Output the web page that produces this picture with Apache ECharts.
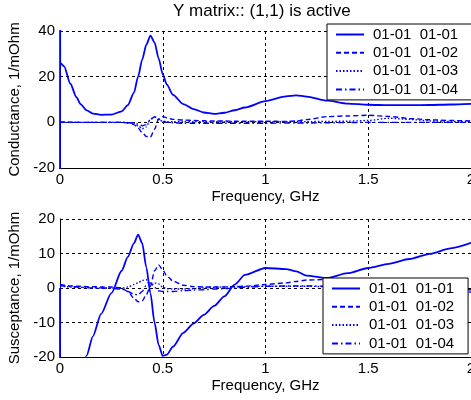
<!DOCTYPE html>
<html>
<head>
<meta charset="utf-8">
<script src="https://cdn.jsdelivr.net/npm/echarts@6/dist/echarts.min.js"></script>
<style>
  html, body { margin: 0; padding: 0; background: #fff; }
  #chart { width: 471px; height: 400px; }
</style>
</head>
<body>
<div id="chart"></div>
<script>
// frequency, GHz (first points hold the DC spike)
let freq = [0, 0.0005, 0.001, 0.02, 0.05, 0.08, 0.1, 0.13, 0.16, 0.2, 0.25, 0.3, 0.33, 0.36, 0.38, 0.4,
  0.42, 0.44, 0.46, 0.48, 0.5, 0.52, 0.55, 0.6, 0.65, 0.7, 0.75, 0.8, 0.85, 0.9, 1.0, 1.1, 1.15, 1.2,
  1.3, 1.4, 1.5, 1.6, 1.7, 1.8, 1.9, 2.0];

// conductance, 1/mOhm
let g11 = [-40, 60, 26, 24.5, 17, 11, 8, 5.2, 3.8, 3.3, 3.4, 4.8, 7.5, 13, 20, 27.5,
  34, 38, 35, 28, 21, 16.5, 12, 8, 5.8, 4.3, 3.7, 4.2, 5.3, 6.5, 9.3, 11.4, 11.8, 11.3,
  9.5, 8.2, 7.7, 7.5, 7.5, 7.6, 7.8, 8.1];
let g12 = [0.3, 0.3, 0.3, 0.2, 0.1, 0, 0, 0, 0, 0, 0, 0, -0.3, -1, -2.5, -4.5,
  -6.2, -6.5, -3, 1.5, 2.5, 2, 1.3, 1, 0.8, 0.7, 0.6, 0.6, 0.5, 0.5, 0.5, 0.4, 0.6, 1.2,
  2.5, 2.8, 3.1, 2.6, 1.7, 1.1, 0.8, 0.6];
let g13 = [0, 0, 0, 0, 0, 0, 0, 0, 0, 0, 0, 0, -0.2, -0.5, -1.5, -2.8,
  -2, 1.5, 2.2, 1.2, 0.5, 0.3, 0.3, 0.3, 0.3, 0.3, 0.3, 0.3, 0.3, 0.3, 0.3, 0.3, 0.3, 0.3,
  0.4, 0.5, 0.8, 1.8, 1.3, 0.6, 0.4, 0.3];
let g14 = [0, 0, 0, 0, 0, 0, 0, 0, 0, 0, 0, 0, -0.1, -0.3, -0.8, -1.5,
  -1, 1, 2.5, 1.5, 0.3, 0, -0.2, -0.4, -0.4, -0.4, -0.4, -0.4, -0.4, -0.4, -0.4, -0.3, -0.3, -0.3,
  -0.2, -0.1, 0, 0, 0, 0, 0, 0];

// susceptance, 1/mOhm
let b11 = [0, -200, -200, -150, -55, -35, -27, -19.5, -14, -7.5, -1.5, 5, 9, 13, 15.5, 13,
  6, -1.5, -10, -16.5, -19.7, -19.3, -17, -13, -10.3, -7.8, -5.2, -2.4, 1, 3.8, 5.8, 5.5, 4.8, 3.6,
  2.9, 4.3, 5.8, 7, 8.4, 9.9, 11.5, 13.1];
let b12 = [1, 1, 1, 0.8, 0.6, 0.5, 0.5, 0.4, 0.4, 0.3, 0.3, 0, -1, -3, -4, -3.7,
  -2, 0.5, 5, 6.7, 5.2, 3.5, 2, 0.8, 0.4, 0.3, 0.3, 0.3, 0.4, 0.5, 1, 1.5, 1.9, 2.3,
  2.5, 1.5, 0.5, -0.2, -0.6, -0.8, -1, -1.2];
let b13 = [0.5, 0.5, 0.5, 0.4, 0.3, 0.2, 0.2, 0.1, 0.1, 0, 0, 0, 0.3, 1, 1.5, 2.2,
  2.4, 0.5, 1.5, 1.2, 0.2, -0.2, -0.3, -0.3, -0.2, 0, 0.2, 0.3, 0.3, 0.4, 0.5, 0.5, 0.5, 0.5,
  0.4, 0.2, 0, -0.2, -0.3, -0.3, -0.4, -0.4];
let b14 = [0.8, 0.8, 0.8, 0.6, 0.4, 0.3, 0.2, 0.1, 0, 0, -0.1, -0.3, -1, -1.8, -2, -1,
  0.8, 1.5, 0.2, -0.8, -1, -1, -1, -0.8, -0.6, -0.5, -0.3, -0.2, 0, 0.2, 0.5, 0.6, 0.6, 0.6,
  0.5, 0.3, 0, -0.2, -0.3, -0.4, -0.5, -0.5];

let names = ["01-01  01-01", "01-01  01-02", "01-01  01-03", "01-01  01-04"];
let dashTypes = ["solid", [5, 3], [1.5, 2], [6, 3, 1.5, 3]];

let font = "'Liberation Sans', Arial, sans-serif";

function pairs(ys) {
  return freq.map(function (f, i) {
    return [f, ys[i]];
  });
}

function makeSeries(ys, k, idx) {
  return {
    name: names[k],
    type: "line",
    xAxisIndex: idx,
    yAxisIndex: idx,
    data: pairs(ys),
    symbol: "none",
    smooth: 0.25,
    smoothMonotone: "x",
    clip: true,
    color: "#0000ff",
    lineStyle: { color: "#0000ff", width: k === 0 ? 1.8 : 1.4, type: dashTypes[k] },
    z: 5 - k,
  };
}

function xAxis(idx) {
  return {
    type: "value",
    gridIndex: idx,
    min: 0,
    max: 2,
    interval: 0.5,
    name: "Frequency, GHz",
    nameLocation: "middle",
    nameGap: 21,
    nameTextStyle: { color: "#000", fontSize: 15, fontFamily: font },
    axisLine: { show: true, onZero: false, lineStyle: { color: "#000", width: 1 } },
    axisTick: { show: false },
    axisLabel: { color: "#000", fontSize: 15, fontFamily: font, margin: 4 },
    splitLine: { show: true, lineStyle: { color: "#000", width: 1, type: [3, 3] } },
  };
}

function yAxis(idx, name, min, max, step) {
  return {
    type: "value",
    gridIndex: idx,
    min: min,
    max: max,
    interval: step,
    name: name,
    nameLocation: "middle",
    nameGap: 30,
    nameTextStyle: { color: "#000", fontSize: 15, fontFamily: font },
    axisLine: { show: true, onZero: false, lineStyle: { color: "#000", width: 1 } },
    axisTick: { show: false },
    axisLabel: { color: "#000", fontSize: 15, fontFamily: font, margin: 5 },
    splitLine: { show: true, lineStyle: { color: "#000", width: 1, type: [3, 3] } },
  };
}

function legend(left, top) {
  return {
    orient: "vertical",
    left: left,
    top: top,
    data: names,
    itemWidth: 28,
    itemHeight: 14,
    itemGap: 3.3,
    padding: [3, 14, 3, 8],
    borderColor: "#000",
    borderWidth: 1,
    borderRadius: 0,
    backgroundColor: "#fff",
    selectedMode: false,
    z: 20,
    itemStyle: { opacity: 0, borderWidth: 0 },
    textStyle: { color: "#000", fontSize: 15, fontFamily: font, padding: [0, 0, 0, 4] },
  };
}

let chart = echarts.init(document.getElementById("chart"));
chart.setOption({
  animation: false,
  backgroundColor: "#fff",
  title: {
    text: "Y matrix:: (1,1) is active",
    left: 173,
    top: 3,
    padding: 0,
    textStyle: { color: "#000", fontSize: 17, fontWeight: "normal", fontFamily: font },
  },
  grid: [
    { left: 60, right: 0, top: 31, height: 137, outerBoundsMode: "none", containLabel: false },
    { left: 60, right: 0, top: 219, height: 138, outerBoundsMode: "none", containLabel: false },
  ],
  xAxis: [xAxis(0), xAxis(1)],
  yAxis: [
    yAxis(0, "Conductance, 1/mOhm", -20, 40, 20),
    yAxis(1, "Susceptance, 1/mOhm", -20, 20, 10),
  ],
  legend: [legend(327, 24), legend(323, 278)],
  series: [
    makeSeries(g11, 0, 0),
    makeSeries(g12, 1, 0),
    makeSeries(g13, 2, 0),
    makeSeries(g14, 3, 0),
    makeSeries(b11, 0, 1),
    makeSeries(b12, 1, 1),
    makeSeries(b13, 2, 1),
    makeSeries(b14, 3, 1),
  ],
});
</script>
</body>
</html>
